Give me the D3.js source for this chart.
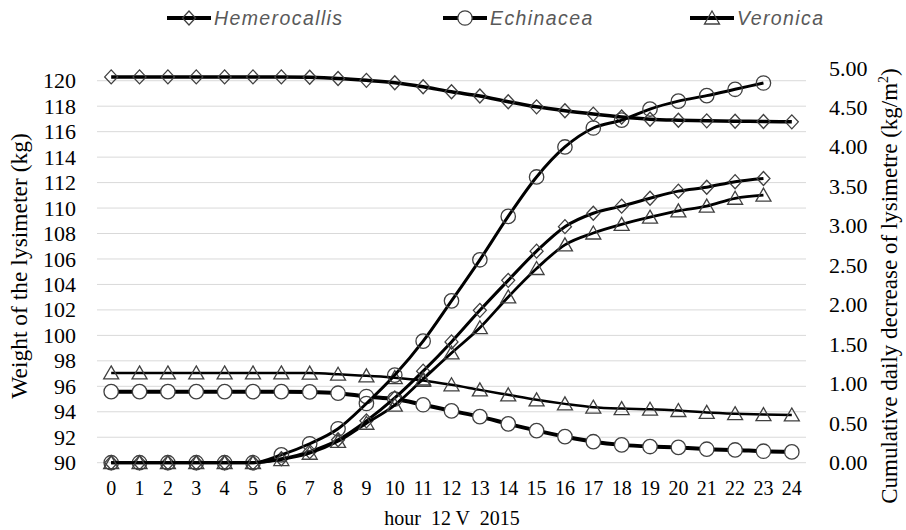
<!DOCTYPE html>
<html>
<head>
<meta charset="utf-8">
<script src="https://cdn.jsdelivr.net/npm/d3@7"></script>
<style>
  body { margin: 0; background: #fff; }
  svg { display: block; }
</style>
</head>
<body>
<div id="chart"></div>
<script>
// hours of 12 V 2015
const hours = [0, 1, 2, 3, 4, 5, 6, 7, 8, 9, 10, 11, 12, 13, 14, 15, 16, 17, 18, 19, 20, 21, 22, 23, 24];
const cumHours = [0, 1, 2, 3, 4, 5, 6, 7, 8, 9, 10, 11, 12, 13, 14, 15, 16, 17, 18, 19, 20, 21, 22, 23];

// weight of the lysimeter (kg), left axis
const weightHemerocallis = [120.3, 120.3, 120.3, 120.3, 120.3, 120.3, 120.3, 120.27, 120.18, 120.03, 119.84, 119.53, 119.13, 118.8, 118.35, 117.95, 117.64, 117.38, 117.15, 116.98, 116.9, 116.85, 116.82, 116.8, 116.77];
const weightEchinacea = [95.58, 95.58, 95.58, 95.58, 95.58, 95.58, 95.58, 95.56, 95.46, 95.2, 95.0, 94.55, 94.07, 93.62, 93.05, 92.52, 92.05, 91.65, 91.4, 91.27, 91.2, 91.06, 91.0, 90.9, 90.85];
const weightVeronica = [97.05, 97.05, 97.05, 97.05, 97.05, 97.05, 97.05, 97.04, 96.95, 96.82, 96.68, 96.46, 96.12, 95.72, 95.33, 94.94, 94.62, 94.36, 94.25, 94.2, 94.1, 93.95, 93.85, 93.78, 93.75];

// cumulative daily decrease (kg/m2), right axis
const cumHemerocallis = [0, 0, 0, 0, 0, 0, 0.05, 0.14, 0.29, 0.53, 0.82, 1.16, 1.53, 1.93, 2.31, 2.68, 2.99, 3.16, 3.25, 3.35, 3.44, 3.49, 3.56, 3.6];
const cumEchinacea = [0, 0, 0, 0, 0, 0, 0.1, 0.24, 0.43, 0.75, 1.11, 1.54, 2.05, 2.57, 3.12, 3.62, 4.0, 4.24, 4.34, 4.48, 4.58, 4.65, 4.73, 4.81];
const cumVeronica = [0, 0, 0, 0, 0, 0, 0.04, 0.12, 0.27, 0.5, 0.73, 1.06, 1.39, 1.71, 2.1, 2.46, 2.76, 2.91, 3.02, 3.11, 3.19, 3.25, 3.35, 3.39];

const leftTicks = [90, 92, 94, 96, 98, 100, 102, 104, 106, 108, 110, 112, 114, 116, 118, 120];
const rightTicks = [0, 0.5, 1, 1.5, 2, 2.5, 3, 3.5, 4, 4.5, 5];
const legendNames = ["Hemerocallis", "Echinacea", "Veronica"];

let width = 906;
let height = 530;
let plot = { left: 97, right: 806, top: 68, bottom: 462.7 };

let svg = d3.select("#chart")
  .append("svg")
  .attr("width", width)
  .attr("height", height);

let xScale = d3.scaleBand()
  .domain(hours)
  .range([plot.left, plot.right]);

let yLeft = d3.scaleLinear().domain([90, 121]).range([plot.bottom, plot.top]);
let yRight = d3.scaleLinear().domain([0, 5]).range([plot.bottom, plot.top]);

function cx(h) { return xScale(h) + xScale.bandwidth() / 2; }

// gridlines
svg.append("g")
  .selectAll("line")
  .data(leftTicks)
  .join("line")
  .attr("x1", plot.left)
  .attr("x2", plot.right)
  .attr("y1", d => yLeft(d))
  .attr("y2", d => yLeft(d))
  .attr("stroke", "#d9d9d9")
  .attr("stroke-width", 1);

// axes
let serif = "'Liberation Serif', 'Times New Roman', serif";

let gLeft = svg.append("g")
  .attr("transform", `translate(${plot.left},0)`)
  .call(d3.axisLeft(yLeft).tickValues(leftTicks).tickSize(0).tickPadding(21));
let gRight = svg.append("g")
  .attr("transform", `translate(${plot.right},0)`)
  .call(d3.axisRight(yRight).tickValues(rightTicks).tickSize(0).tickPadding(23).tickFormat(d3.format(".2f")));
let gBottom = svg.append("g")
  .attr("transform", `translate(0,${plot.bottom})`)
  .call(d3.axisBottom(xScale).tickSize(0).tickPadding(18));

[gLeft, gRight].forEach(g => {
  g.select(".domain").remove();
  g.selectAll("text").attr("font-family", serif).attr("font-size", "22px").attr("fill", "#000");
});
gBottom.select(".domain").remove();
gBottom.selectAll("text").attr("font-family", serif).attr("font-size", "20px").attr("fill", "#000");

// axis titles
svg.append("text")
  .attr("transform", "translate(27,266) rotate(-90)")
  .attr("text-anchor", "middle")
  .attr("font-family", serif)
  .attr("font-size", "23.5px")
  .text("Weight of the lysimeter (kg)");

let rt = svg.append("text")
  .attr("transform", "translate(897,286) rotate(-90)")
  .attr("text-anchor", "middle")
  .attr("font-family", serif)
  .attr("font-size", "23px");
rt.append("tspan").text("Cumulative daily decrease of lysimetre (kg/m");
rt.append("tspan").attr("font-size", "14px").attr("dy", "-9").text("2");
rt.append("tspan").attr("dy", "9").text(")");

svg.append("text")
  .attr("x", 452)
  .attr("y", 525)
  .attr("text-anchor", "middle")
  .attr("font-family", serif)
  .attr("font-size", "20px")
  .attr("xml:space", "preserve")
  .style("white-space", "pre")
  .text("hour  12 V  2015");

// marker shapes
function diamond(x, y) { return `M${x},${y - 7}L${x + 6.5},${y}L${x},${y + 7}L${x - 6.5},${y}Z`; }
function triangle(x, y) { return `M${x},${y - 7}L${x + 7.5},${y + 6}L${x - 7.5},${y + 6}Z`; }
function circle(x, y) { return `M${x + 7.2},${y}A7.2,7.2 0 1 1 ${x - 7.2},${y}A7.2,7.2 0 1 1 ${x + 7.2},${y}Z`; }

let series = [
  { xs: hours, vals: weightHemerocallis, y: yLeft, shape: diamond, lw: 3.5, fill: "none" },
  { xs: hours, vals: weightEchinacea, y: yLeft, shape: circle, lw: 4, fill: "#fff" },
  { xs: hours, vals: weightVeronica, y: yLeft, shape: triangle, lw: 2.5, fill: "none" },
  { xs: cumHours, vals: cumHemerocallis, y: yRight, shape: diamond, lw: 3, fill: "none" },
  { xs: cumHours, vals: cumEchinacea, y: yRight, shape: circle, lw: 3, fill: "none" },
  { xs: cumHours, vals: cumVeronica, y: yRight, shape: triangle, lw: 2.8, fill: "none" }
];

series.forEach(s => {
  let pts = s.xs.map((h, i) => [cx(h), s.y(s.vals[i])]);
  svg.append("path")
    .attr("d", d3.line().curve(d3.curveMonotoneX)(pts))
    .attr("fill", "none")
    .attr("stroke", "#000")
    .attr("stroke-width", s.lw);
  svg.append("g")
    .selectAll("path")
    .data(pts)
    .join("path")
    .attr("d", d => s.shape(d[0], d[1]))
    .attr("fill", s.fill)
    .attr("stroke", "#404040")
    .attr("stroke-width", 1.3);
});

// legend
let legendX = [167, 443, 690];
let legendShapes = [diamond, circle, triangle];
legendNames.forEach((name, i) => {
  let lx = legendX[i];
  svg.append("line")
    .attr("x1", lx).attr("x2", lx + 44)
    .attr("y1", 18).attr("y2", 18)
    .attr("stroke", "#000").attr("stroke-width", 4);
  svg.append("path")
    .attr("d", legendShapes[i](lx + 22, 18))
    .attr("fill", i == 1 ? "#fff" : "none")
    .attr("stroke", "#404040")
    .attr("stroke-width", 1.3);
  svg.append("text")
    .attr("x", lx + 47)
    .attr("y", 25)
    .attr("font-family", "'Liberation Sans', Arial, sans-serif")
    .attr("font-style", "italic")
    .attr("font-size", "19.5px")
    .attr("letter-spacing", "1.4px")
    .attr("fill", "#595959")
    .text(name);
});
</script>
</body>
</html>
